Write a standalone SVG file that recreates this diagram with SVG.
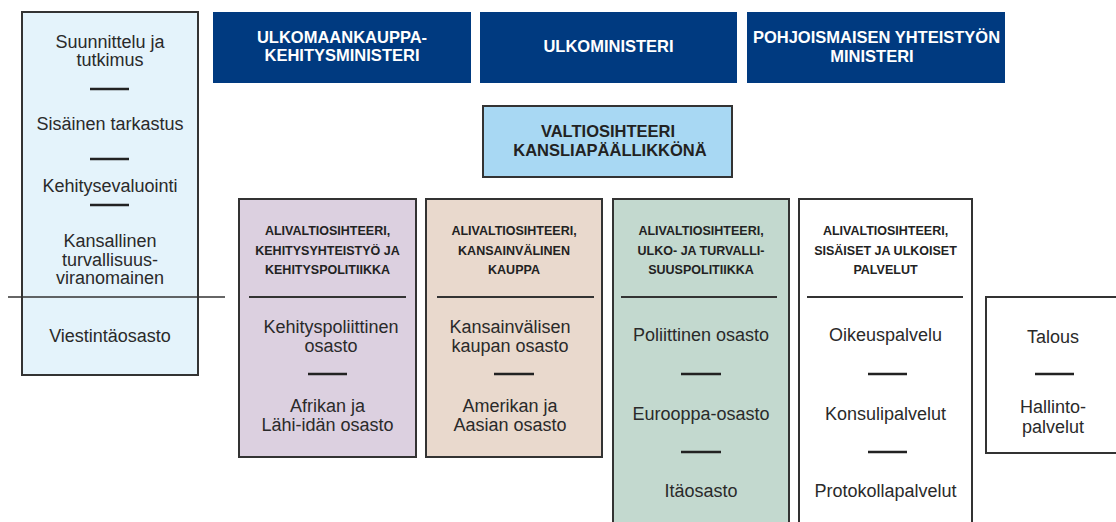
<svg xmlns="http://www.w3.org/2000/svg" width="1116" height="522" viewBox="0 0 1116 522">
<style>
.box{stroke:#333;stroke-width:2}
.min{fill:#003a80}
.mt{font-family:"Liberation Sans",Arial,sans-serif;font-weight:bold;font-size:16.5px;fill:#fff;text-anchor:middle}
.bt{font-family:"Liberation Sans",Arial,sans-serif;font-weight:bold;font-size:16.5px;fill:#222;text-anchor:middle}
.ht{font-family:"Liberation Sans",Arial,sans-serif;font-weight:bold;font-size:12.5px;fill:#222;text-anchor:middle}
.t{font-family:"Liberation Sans",Arial,sans-serif;font-size:18px;fill:#2a2a2a;text-anchor:middle}
.sep{stroke:#333;stroke-width:2}
.dash{stroke:#222;stroke-width:2.5}
</style>
<rect width="1116" height="522" fill="#fff"/>
<g id="left-units">
<rect class="box" x="22" y="12" width="176" height="363" fill="#e4f3fb"/>
<text class="t" x="110" y="48">Suunnittelu ja</text>
<text class="t" x="110" y="66">tutkimus</text>
<line class="dash" x1="90" y1="89" x2="129" y2="89"/>
<text class="t" x="110" y="130">Sisäinen tarkastus</text>
<line class="dash" x1="90" y1="159" x2="129" y2="159"/>
<text class="t" x="110" y="192">Kehitysevaluointi</text>
<line class="dash" x1="90" y1="205" x2="129" y2="205"/>
<text class="t" x="110" y="247">Kansallinen</text>
<text class="t" x="110" y="266">turvallisuus-</text>
<text class="t" x="110" y="284">viranomainen</text>
<text class="t" x="110" y="342">Viestintäosasto</text>
</g>
<g id="connectors">
<line x1="8" y1="297" x2="225" y2="297" stroke="#333" stroke-width="1.5"/>
</g>
<g id="min-kehitys">
<rect class="min" x="213" y="12" width="258" height="71"/>
<text class="mt" x="342" y="43">ULKOMAANKAUPPA-</text>
<text class="mt" x="342" y="61">KEHITYSMINISTERI</text>
</g>
<g id="ulkoministeri">
<rect class="min" x="480" y="12" width="257" height="71"/>
<text class="mt" x="608.5" y="52">ULKOMINISTERI</text>
</g>
<g id="min-pohjoismainen">
<rect class="min" x="747" y="12" width="258" height="71"/>
<text class="mt" x="876.5" y="43">POHJOISMAISEN YHTEISTYÖN</text>
<text class="mt" x="872" y="62">MINISTERI</text>
</g>
<g id="valtiosihteeri">
<rect class="box" x="483" y="106" width="249" height="71" fill="#a8d8f3"/>
<text class="bt" x="608" y="137">VALTIOSIHTEERI</text>
<text class="bt" x="610" y="156">KANSLIAPÄÄLLIKKÖNÄ</text>
</g>
<g id="alival-kehitys">
<rect class="box" x="239" y="199" width="177" height="258" fill="#dcd0e0"/>
<text class="ht" x="327.5" y="235">ALIVALTIOSIHTEERI,</text>
<text class="ht" x="327.5" y="255">KEHITYSYHTEISTYÖ JA</text>
<text class="ht" x="327.5" y="274">KEHITYSPOLITIIKKA</text>
<line class="sep" x1="249" y1="297" x2="406" y2="297"/>
<text class="t" x="331" y="333">Kehityspoliittinen</text>
<text class="t" x="331" y="352">osasto</text>
<line class="dash" x1="308" y1="374" x2="347" y2="374"/>
<text class="t" x="327.5" y="412">Afrikan ja</text>
<text class="t" x="327.5" y="431">Lähi-idän osasto</text>
</g>
<g id="alival-kauppa">
<rect class="box" x="426" y="199" width="176" height="258" fill="#e9d9cd"/>
<text class="ht" x="514" y="235">ALIVALTIOSIHTEERI,</text>
<text class="ht" x="514" y="255">KANSAINVÄLINEN</text>
<text class="ht" x="514" y="274">KAUPPA</text>
<line class="sep" x1="437" y1="297" x2="594" y2="297"/>
<text class="t" x="510" y="333">Kansainvälisen</text>
<text class="t" x="510" y="352">kaupan osasto</text>
<line class="dash" x1="494" y1="374" x2="534" y2="374"/>
<text class="t" x="510" y="412">Amerikan ja</text>
<text class="t" x="510" y="431">Aasian osasto</text>
</g>
<g id="alival-ulko">
<rect class="box" x="613" y="199" width="176" height="335" fill="#c3d9cf"/>
<text class="ht" x="701" y="235">ALIVALTIOSIHTEERI,</text>
<text class="ht" x="701" y="255">ULKO- JA TURVALLI-</text>
<text class="ht" x="701" y="274">SUUSPOLITIIKKA</text>
<line class="sep" x1="621" y1="297" x2="777" y2="297"/>
<text class="t" x="701" y="341">Poliittinen osasto</text>
<line class="dash" x1="681" y1="374" x2="721" y2="374"/>
<text class="t" x="701" y="420">Eurooppa-osasto</text>
<line class="dash" x1="681" y1="452" x2="721" y2="452"/>
<text class="t" x="701" y="497">Itäosasto</text>
</g>
<g id="alival-palvelut">
<rect class="box" x="799" y="199" width="173" height="335" fill="#fff"/>
<text class="ht" x="885.5" y="235">ALIVALTIOSIHTEERI,</text>
<text class="ht" x="885.5" y="255">SISÄISET JA ULKOISET</text>
<text class="ht" x="885.5" y="274">PALVELUT</text>
<line class="sep" x1="807" y1="297" x2="963" y2="297"/>
<text class="t" x="885.5" y="341">Oikeuspalvelu</text>
<line class="dash" x1="868" y1="374" x2="907" y2="374"/>
<text class="t" x="885.5" y="420">Konsulipalvelut</text>
<line class="dash" x1="868" y1="452" x2="907" y2="452"/>
<text class="t" x="885.5" y="497">Protokollapalvelut</text>
</g>
<g id="talous">
<rect class="box" x="986" y="297" width="140" height="156" fill="#fff"/>
<text class="t" x="1053" y="343">Talous</text>
<line class="dash" x1="1035" y1="374" x2="1074" y2="374"/>
<text class="t" x="1053" y="413">Hallinto-</text>
<text class="t" x="1053" y="433">palvelut</text>
</g>
</svg>
